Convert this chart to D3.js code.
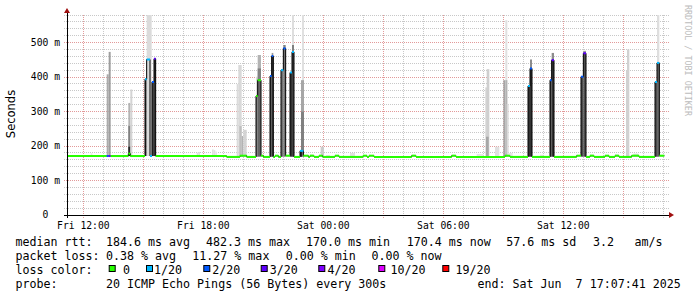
<!DOCTYPE html>
<html><head><meta charset="utf-8">
<script src="https://cdn.jsdelivr.net/npm/d3@7"></script>
<style>
html,body{margin:0;padding:0;background:#fff;}
svg{display:block;}
text{font-family:"DejaVu Sans Mono",monospace;white-space:pre;}
</style></head><body>
<svg id="chart" width="697" height="297"></svg>
<script>
// ---------------- DATA ----------------
const plotStart = "Fri 11:11", plotEnd = "Sat 17:11", medianEnd = "Sat 17:03";
const yMax = 580;
const yTickValues = [0, 100, 200, 300, 400, 500];
const yTickLabels = ["0  ", "100 m", "200 m", "300 m", "400 m", "500 m"];
const xTickLabels = ["Fri 12:00", "Fri 18:00", "Sat 00:00", "Sat 06:00", "Sat 12:00"];
const yAxisTitle = "Seconds";
const watermark = "RRDTOOL / TOBI OETIKER";

const lossLevels = [0, 1, 2, 3, 4, 10, 19];
const lossLabels = ["0", "1/20", "2/20", "3/20", "4/20", "10/20", "19/20"];
const lossColors = ["#26ff00", "#00b8ff", "#0059ff", "#5e00ff", "#7e00ff", "#dd00ff", "#ff0000"];

// median rtt (ms) change points: [time, median, lost pings]
const medianSteps = [
  ["Fri 11:11",171,0],["Fri 13:10",171,2],["Fri 13:16",171,3],["Fri 13:22",171,0],
  ["Fri 14:15",178,0],["Fri 14:21",171,0],
  ["Fri 15:05",394,1],["Fri 15:10",451,1],["Fri 15:20",171,1],["Fri 15:26",386,2],["Fri 15:32",453,3],["Fri 15:37",171,0],
  ["Fri 19:10",168.5,0],["Fri 19:50",172,0],["Fri 20:10",168.5,0],
  ["Fri 20:38",345,0],["Fri 20:43",391,0],["Fri 20:53",172,0],["Fri 21:00",168.5,0],
  ["Fri 21:20",403,2],["Fri 21:25",461,2],["Fri 21:30",168.5,0],["Fri 21:35",172,0],["Fri 21:45",168.5,0],
  ["Fri 21:53",420,1],["Fri 22:00",483,2],["Fri 22:07",172,0],
  ["Fri 22:20",413,1],["Fri 22:26",473,1],["Fri 22:32",168.5,0],
  ["Fri 22:50",186,1],["Fri 23:00",172,0],["Fri 23:15",168.5,0],["Fri 23:20",172,0],["Fri 23:32",168.5,0],
  ["Fri 23:47",172,0],["Fri 23:58",168.5,0],["Sat 00:35",172,0],["Sat 00:47",168.5,0],
  ["Sat 01:59",172,0],["Sat 02:11",168.5,0],["Sat 02:17",172,0],["Sat 02:32",168.5,0],
  ["Sat 04:25",172,0],["Sat 04:38",168.5,0],["Sat 06:25",172,0],["Sat 06:38",168.5,0],
  ["Sat 09:05",172,0],["Sat 09:20",168.5,0],
  ["Sat 10:14",374,1],["Sat 10:20",425,2],["Sat 10:26",168.5,0],
  ["Sat 11:20",391,2],["Sat 11:25",449,3],["Sat 11:32",168.5,0],
  ["Sat 12:40",172,0],["Sat 12:53",401,2],["Sat 13:00",469,3],["Sat 13:08",168.5,0],
  ["Sat 13:20",172,0],["Sat 13:32",168.5,0],["Sat 14:05",172,0],["Sat 14:17",168.5,0],
  ["Sat 14:35",172,0],["Sat 14:47",168.5,0],["Sat 15:25",172,0],["Sat 15:47",168.5,0],
  ["Sat 16:35",386,1],["Sat 16:41",441,1],["Sat 16:48",172,0]
];

// smoke (ping spread): [from, to, low ms, high ms, ping density 0..1]
const smokeBands = [
  ["Fri 12:22","Fri 12:27",171,179,.1],
  ["Fri 13:10","Fri 13:16",171,408,.33],["Fri 13:16","Fri 13:22",171,473,.38],
  ["Fri 14:15","Fri 14:21",171,325,.3],["Fri 14:15","Fri 14:21",171,258,.5],["Fri 14:15","Fri 14:21",171,198,.85],
  ["Fri 14:21","Fri 14:27",171,364,.17],
  ["Fri 15:05","Fri 15:10",171,394,.85],["Fri 15:10","Fri 15:25",171,600,.14],
  ["Fri 15:26","Fri 15:32",171,386,.75],["Fri 15:32","Fri 15:37",171,453,.8],
  ["Fri 17:40","Fri 17:45",171,181,.12],["Fri 17:45","Fri 17:50",171,183,.12],
  ["Fri 18:26","Fri 18:31",171,190,.12],["Fri 18:31","Fri 18:36",171,188,.12],["Fri 18:36","Fri 18:41",171,184,.1],
  ["Fri 19:40","Fri 19:45",169,380,.14],["Fri 19:45","Fri 19:55",169,435,.15],["Fri 19:48","Fri 19:55",169,258,.25],
  ["Fri 19:55","Fri 20:00",169,229,.3],["Fri 20:00","Fri 20:10",169,247,.17],
  ["Fri 20:38","Fri 20:43",169,401,.15],["Fri 20:38","Fri 20:43",169,345,.6],
  ["Fri 20:43","Fri 20:53",169,391,.6],["Fri 20:43","Fri 20:53",391,464,.3],["Fri 20:43","Fri 20:53",391,425,.5],
  ["Fri 21:20","Fri 21:25",169,403,.8],["Fri 21:25","Fri 21:30",169,461,.8],["Fri 21:25","Fri 21:30",461,470,.4],
  ["Fri 21:53","Fri 22:00",169,420,.55],["Fri 22:00","Fri 22:07",169,483,.55],["Fri 22:00","Fri 22:07",483,493,.5],
  ["Fri 22:20","Fri 22:26",169,413,.8],["Fri 22:26","Fri 22:32",169,600,.13],
  ["Fri 22:26","Fri 22:32",169,473,.75],["Fri 22:26","Fri 22:32",473,493,.5],
  ["Fri 22:56","Fri 23:02",169,600,.12],["Fri 22:53","Fri 23:02",169,391,.35],["Fri 22:53","Fri 23:02",169,300,.5],
  ["Fri 22:50","Fri 22:56",169,186,.85],
  ["Fri 23:20","Fri 23:29",169,176,.1],["Fri 23:52","Sat 00:02",169,198,.2],["Sat 00:08","Sat 00:20",169,174,.1],
  ["Sat 01:20","Sat 01:35",169,180,.12],["Sat 04:25","Sat 04:35",169,175,.1],["Sat 06:25","Sat 06:35",169,175,.1],
  ["Sat 07:40","Sat 08:00",169,177,.1],
  ["Sat 08:06","Sat 08:11",169,370,.17],["Sat 08:10","Sat 08:18",169,423,.19],["Sat 08:08","Sat 08:16",169,227,.35],
  ["Sat 08:35","Sat 08:48",169,198,.12],
  ["Sat 09:00","Sat 09:06",169,391,.35],["Sat 09:06","Sat 09:12",169,565,.12],["Sat 09:06","Sat 09:12",169,391,.3],
  ["Sat 09:10","Sat 09:16",169,322,.14],["Sat 09:16","Sat 09:28",169,180,.1],
  ["Sat 10:14","Sat 10:20",169,374,.8],["Sat 10:20","Sat 10:26",169,425,.8],["Sat 10:20","Sat 10:26",425,451,.45],
  ["Sat 10:50","Sat 11:00",169,175,.1],
  ["Sat 11:20","Sat 11:25",169,391,.8],["Sat 11:25","Sat 11:32",169,449,.8],["Sat 11:25","Sat 11:32",449,470,.45],
  ["Sat 12:53","Sat 13:00",169,401,.7],["Sat 13:00","Sat 13:08",169,469,.7],["Sat 13:00","Sat 13:08",469,476,.4],
  ["Sat 13:20","Sat 13:30",169,176,.1],["Sat 14:35","Sat 14:45",169,176,.1],
  ["Sat 15:08","Sat 15:13",169,420,.18],["Sat 15:11","Sat 15:18",169,480,.18],["Sat 15:30","Sat 15:45",169,178,.12],
  ["Sat 16:35","Sat 16:41",169,386,.7],["Sat 16:41","Sat 16:48",169,600,.13],["Sat 16:41","Sat 16:48",169,441,.6]
];

const rttLabel = "median rtt:";
const rttStats = ["184.6 ms avg", "482.3 ms max", "170.0 ms min", "170.4 ms now", "57.6 ms sd", "3.2", "am/s"];
const lossLabel = "packet loss:";
const lossStats = ["0.38 % avg", "11.27 % max", "0.00 % min", "0.00 % now"];
const colorLabel = "loss color:";
const probeLabel = "probe:";
const probeText = "20 ICMP Echo Pings (56 Bytes) every 300s";
const endText = "end: Sat Jun  7 17:07:41 2025";

// ---------------- DRAWING ----------------
function parseT(s) {
  const [d, hm] = s.split(" ");
  const [h, m] = hm.split(":").map(Number);
  return new Date(2025, 5, d === "Fri" ? 6 : 7, h, m);
}
const L = 67, R = 667, T = 15, B = 215;
const x = d3.scaleTime().domain([parseT(plotStart), parseT(plotEnd)]).range([L, R]);
const y = d3.scaleLinear().domain([0, yMax]).range([B, T]);
const svg = d3.select("#chart");
svg.append("rect").attr("width", 697).attr("height", 297).attr("fill", "#fff");

const shade = d3.scaleLinear().domain([0, 1]).range(["#ffffff", "#000000"]);
const lossColor = l => { let c = lossColors[0]; lossLevels.forEach((lv, i) => { if (l >= lv) c = lossColors[i]; }); return c; };

// grid
const grid = svg.append("g").attr("shape-rendering", "crispEdges");
d3.range(20, yMax + 1, 20).forEach(v => {
  const major = v % 100 === 0;
  grid.append("line").attr("x1", L - 3).attr("x2", R + 3).attr("y1", y(v)).attr("y2", y(v))
    .attr("stroke", major ? "#e29a9a" : "#c8c8c8").attr("stroke-dasharray", "1,1");
});
d3.timeHour.every(1).range(parseT(plotStart), parseT(plotEnd)).forEach(t => {
  const major = t.getHours() % 3 === 0;
  grid.append("line").attr("x1", x(t)).attr("x2", x(t)).attr("y1", T).attr("y2", B + 3)
    .attr("stroke", major ? "#e29a9a" : "#c8c8c8").attr("stroke-dasharray", "1,1");
});

// smoke
const plot = svg.append("g");
smokeBands.forEach(([a, b, lo, hi, d]) => {
  const top = y(Math.min(hi, yMax));
  plot.append("rect").attr("x", x(parseT(a))).attr("width", x(parseT(b)) - x(parseT(a)))
    .attr("y", top).attr("height", y(lo) - top).attr("fill", shade(d));
});

// median: thin black step line, then loss-coloured segments
const med = medianSteps.map(([t, v, l], i) => ({ t: parseT(t), v, l }));
med.forEach((d, i) => { d.t2 = i < med.length - 1 ? med[i + 1].t : parseT(medianEnd); });
const pts = [];
med.forEach(d => { pts.push([x(d.t), y(d.v)]); pts.push([x(d.t2), y(d.v)]); });
plot.append("path").attr("d", d3.line()(pts)).attr("fill", "none").attr("stroke", "#000").attr("stroke-width", 1);
med.forEach(d => {
  plot.append("line").attr("x1", x(d.t)).attr("x2", x(d.t2)).attr("y1", y(d.v)).attr("y2", y(d.v))
    .attr("stroke", lossColor(d.l)).attr("stroke-width", 2);
});

// axes
const ax = svg.append("g").attr("shape-rendering", "crispEdges");
ax.append("line").attr("x1", L - 3).attr("x2", R + 2).attr("y1", B).attr("y2", B).attr("stroke", "#000");
ax.append("line").attr("x1", L).attr("x2", L).attr("y1", B + 3).attr("y2", T - 3).attr("stroke", "#000");
svg.append("path").attr("d", `M${L - 3},${T - 2}L${L},${T - 7}L${L + 3},${T - 2}Z`).attr("fill", "#a01010");
svg.append("path").attr("d", `M${R + 2},${B - 3}L${R + 7},${B}L${R + 2},${B + 3}Z`).attr("fill", "#a01010");

// tick labels
yTickValues.forEach((v, i) => {
  svg.append("text").attr("x", 60).attr("y", y(v) + 3.4).attr("text-anchor", "end")
    .attr("font-size", "9.7px").attr("fill", "#000").text(yTickLabels[i]);
});
xTickLabels.forEach(s => {
  svg.append("text").attr("x", x(parseT(s))).attr("y", 228.5).attr("text-anchor", "middle")
    .attr("font-size", "9.7px").attr("fill", "#000").text(s);
});
svg.append("text").attr("transform", "translate(14.5,114) rotate(-90)").attr("text-anchor", "middle")
  .style("font-family", "'DejaVu Sans',sans-serif").attr("font-size", "11.5px").attr("fill", "#000").text(yAxisTitle);
svg.append("text").attr("transform", "translate(684.5,5) rotate(90)")
  .attr("font-size", "8.4px").attr("fill", "#bcbcbc").text(watermark);

// legend
const fs = "11.65px";
const lineY = [245.5, 259.6, 273.8, 288];
const leg = (tx, xx, yy) => svg.append("text").attr("x", xx).attr("y", yy).attr("font-size", fs).attr("fill", "#000").text(tx);
leg(rttLabel, 15.5, lineY[0]);
const rttX = [106, 206, 306, 406.7, 506.3, 593, 634.5];
rttStats.forEach((s, i) => leg(s, rttX[i], lineY[0]));
leg(lossLabel, 15.5, lineY[1]);
const lossX = [106, 192.3, 285.8, 371.4];
lossStats.forEach((s, i) => leg(s, lossX[i], lineY[1]));
leg(colorLabel, 15.5, lineY[2]);
const boxX = [108.7, 146, 203.3, 260.7, 318.3, 378.3, 442.3];
const boxTextX = [123, 154, 212.3, 269.8, 327.4, 390.5, 455.5];
lossLabels.forEach((s, i) => {
  svg.append("rect").attr("x", boxX[i] + 0.5).attr("y", 265.5).attr("width", 6).attr("height", 6)
    .attr("fill", lossColors[i]).attr("stroke", "#000").attr("stroke-width", 1);
  leg(s, boxTextX[i], lineY[2]);
});
leg(probeLabel, 15.5, lineY[3]);
leg(probeText, 106, lineY[3]);
leg(endText, 477.5, lineY[3]);
</script></body></html>
